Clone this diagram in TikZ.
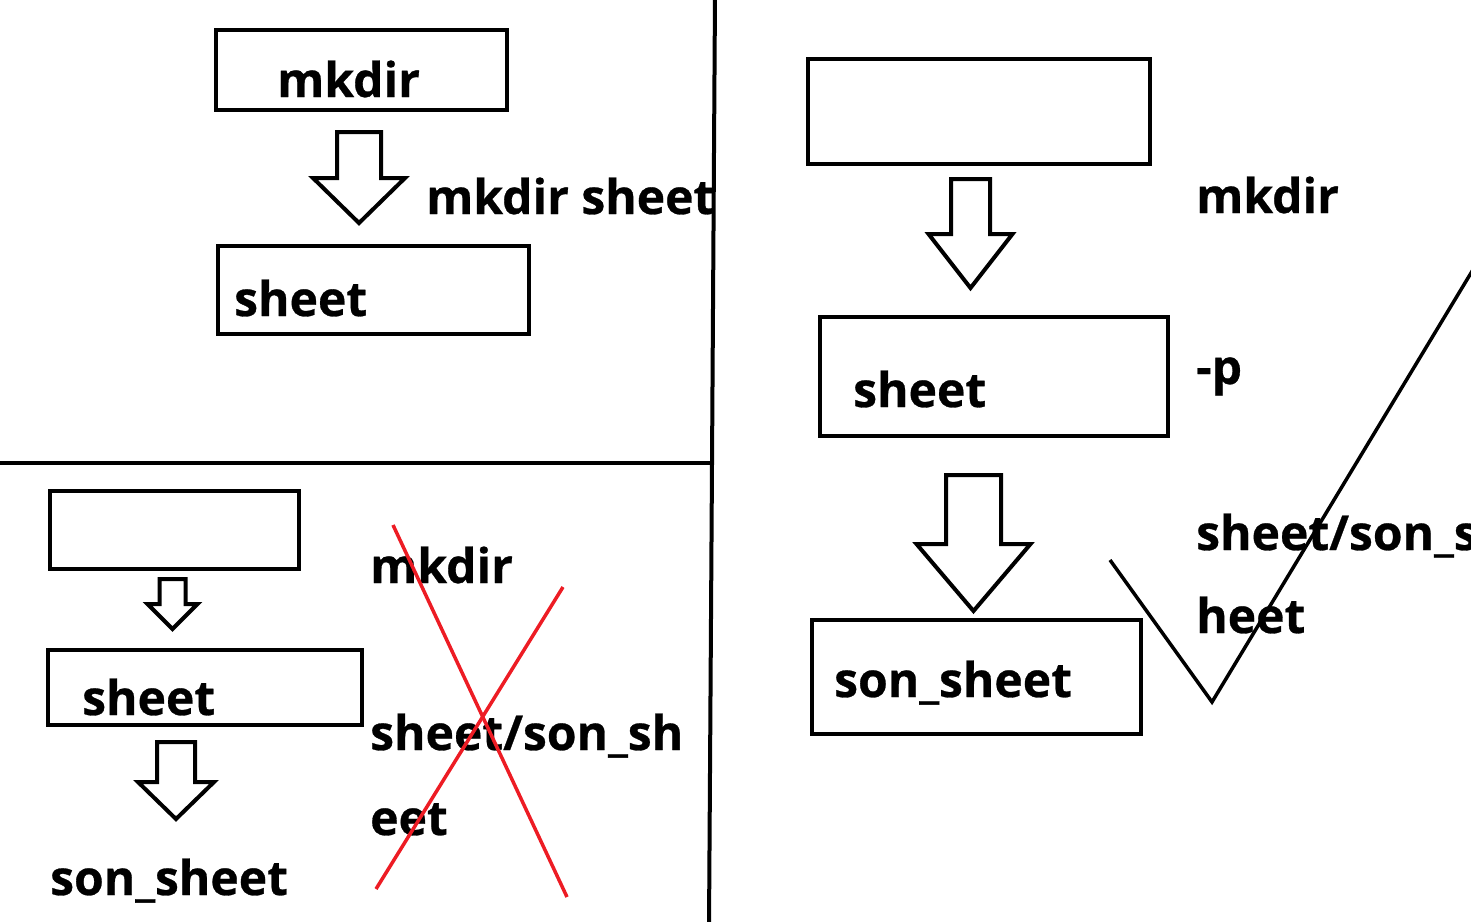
\documentclass[tikz,border=0pt]{standalone}
\usepackage{fontspec}
\setmainfont{Open Sans}[BoldFeatures={FakeBold=0.6}]
\usepackage{tikz}
\usetikzlibrary{positioning}
\definecolor{paintred}{RGB}{237,28,36}

% hollow block arrow: centre x, top, half shaft, shoulder, half head, tip
\newcommand{\hollowarrow}[6]{%
  \draw[arr] ({#1-#3},#2) -- ({#1+#3},#2) -- ({#1+#3},#4) -- ({#1+#5},#4)
    -- (#1,#6) -- ({#1-#5},#4) -- ({#1-#3},#4) -- cycle;}

\begin{document}
\begin{tikzpicture}[x=1pt,y=-1pt,
    box/.style={draw,line width=4pt,inner sep=0,outer sep=0,anchor=north west},
    arr/.style={draw,line width=4pt},
    txt/.style={inner sep=0,anchor=base west,font=\bfseries\fontsize{48}{52}\selectfont},
    divider/.style={line width=4pt},
    cross/.style={paintred,line width=3.5pt}]
    \useasboundingbox (0,0) rectangle (1471,921);
    \clip (0,0) rectangle (1471,921);

    % Dividers
    \draw[divider] (715,-5) -- (712,463) -- (709,926);
    \draw[divider] (-5,463) -- (712,463);

    % Top left: mkdir sheet
    \node[box,minimum width=291pt,minimum height=80pt] (tlfirst) at (216,30) {};
    \node[txt] (tlfirsttxt) at (277,97) {mkdir};
    \hollowarrow{359}{132}{22}{178}{46}{223}
    \node[txt] (tlcmd) at (426,214) {mkdir sheet};
    \node[box,minimum width=311pt,minimum height=88pt] (tlsheet) at (218,246) {};
    \node[txt] (tlsheettxt) at (234,316) {sheet};

    % Bottom left: without -p
    \node[box,minimum width=249pt,minimum height=78pt] (blfirst) at (50,491) {};
    \hollowarrow{172.5}{579}{13}{604}{25}{629}
    \node[box,minimum width=314pt,minimum height=75pt] (blsheet) at (48,650) {};
    \node[txt] (blsheettxt) at (82,715) {sheet};
    \hollowarrow{176}{742}{19}{782}{38}{819}
    \node[txt] (blson) at (50,895) {son\_sheet};
    \node[txt] (blcmd) at (370,583) {mkdir};
    \node[txt] (blpath) at (370,750) {sheet/son\_sh};
    \node[txt] (blpathend) at (370,835) {eet};
    \draw[cross] (393,525) -- (567,897);
    \draw[cross] (563,587) -- (376,889);

    % Right: mkdir -p
    \node[box,minimum width=342pt,minimum height=105pt] (rfirst) at (808,59) {};
    \hollowarrow{970.5}{179}{19.5}{234}{42}{288}
    \node[box,minimum width=348pt,minimum height=119pt] (rsheet) at (820,317) {};
    \node[txt] (rsheettxt) at (853,407) {sheet};
    \hollowarrow{973.5}{475}{27.5}{544}{57}{611}
    \node[box,minimum width=329pt,minimum height=114pt] (rson) at (812,620) {};
    \node[txt] (rsontxt) at (834,697) {son\_sheet};
    \node[txt] (rcmd) at (1196,213) {mkdir};
    \node[txt] (ropt) at (1196,384) {-p};
    \node[txt] (rpath) at (1196,550) {sheet/son\_s};
    \node[txt] (rpathend) at (1196,633) {heet};
    \draw[line width=3.5pt] (1110,560) -- (1212,702) -- (1474,268);
\end{tikzpicture}
\end{document}
